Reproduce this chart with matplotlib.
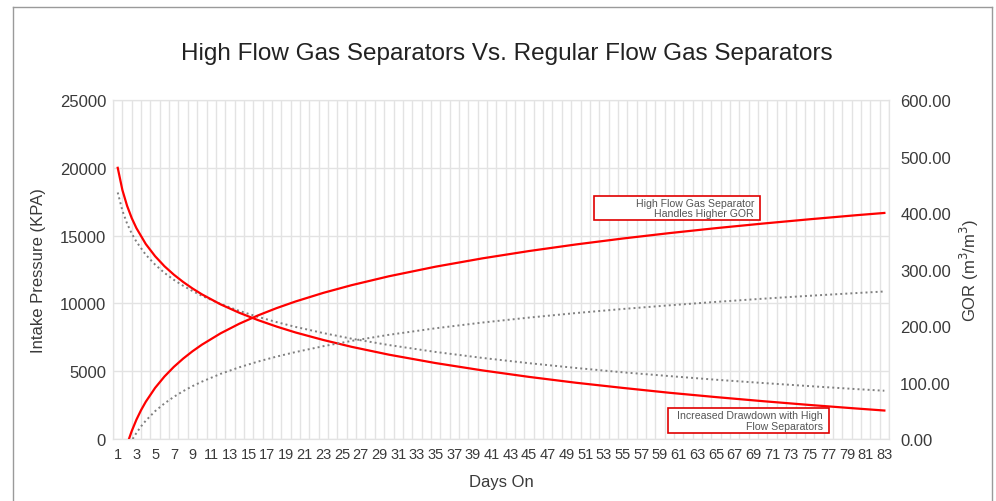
import matplotlib
matplotlib.use("Agg")
import matplotlib.pyplot as plt
from matplotlib.lines import Line2D
from matplotlib.patches import Rectangle
from matplotlib.ticker import FixedLocator, FuncFormatter

plt.rcParams['font.family'] = ['Liberation Sans', 'DejaVu Sans']

# Dados
dias_p = [1, 1.5, 2, 2.5, 3, 4, 5, 6, 7, 8, 9, 10, 12, 14, 16, 18, 20, 23, 26, 30,
          35, 40, 45, 50, 55, 60, 65, 70, 75, 80, 83]
pressao_alta = [20000, 18360, 17200, 16290, 15550, 14380, 13480, 12740, 12120, 11580,
                11100, 10670, 9930, 9310, 8770, 8290, 7860, 7300, 6800, 6220,
                5600, 5060, 4580, 4150, 3770, 3410, 3090, 2790, 2510, 2250, 2100]
pressao_regular = [18180, 16840, 15890, 15150, 14550, 13590, 12860, 12250, 11740, 11300,
                   10910, 10560, 9960, 9450, 9010, 8620, 8270, 7810, 7400, 6930,
                   6420, 5980, 5590, 5240, 4920, 4640, 4370, 4130, 3900, 3680, 3560]

dias_gor_alta = [2.2, 2.5, 3, 3.5, 4, 5, 6, 7, 8, 9, 10, 12, 14, 16, 18, 20, 23, 26, 30,
                 35, 40, 45, 50, 55, 60, 65, 70, 75, 80, 83]
gor_alta = [0, 14.1, 34.2, 51.2, 65.9, 90.5, 110.6, 127.6, 142.3, 155.3, 166.9, 187.0,
            204.0, 218.7, 231.7, 243.3, 258.7, 272.2, 288.0, 305.0, 319.7, 332.7,
            344.3, 354.8, 364.4, 373.2, 381.3, 388.9, 396.1, 400.1]

dias_gor_reg = [2.6, 3, 3.5, 4, 5, 6, 7, 8, 9, 10, 12, 14, 16, 18, 20, 23, 26, 30,
                35, 40, 45, 50, 55, 60, 65, 70, 75, 80, 83]
gor_regular = [0, 10.8, 22.4, 32.4, 49.3, 63.0, 74.6, 84.7, 93.6, 101.5, 115.3, 126.9,
               137.0, 145.9, 153.8, 164.3, 173.6, 184.4, 196.0, 206.1, 214.9, 222.9,
               230.1, 236.6, 242.7, 248.3, 253.5, 258.3, 261.1]

dias = list(range(1, 84))
rotulos_x = [d for d in dias if d % 2 == 1]
ticks_esq = [0, 5000, 10000, 15000, 20000, 25000]
ticks_dir = [0, 100, 200, 300, 400, 500, 600]

nota_gor = 'High Flow Gas Separator\nHandles Higher GOR'
nota_pressao = 'Increased Drawdown with High\nFlow Separators'

texto = '#3a3a3a'
grade = '#e3e3e3'

W, H = 996, 502
fig = plt.figure(figsize=(W / 100, H / 100), dpi=100)
ax = fig.add_axes([0.1135, 0.1235, 0.7791, 0.6753])
ax2 = ax.twinx()

# linhas
ax.plot(dias_p, pressao_regular, color='#7f7f7f', lw=1.4, ls=(0, (1, 1.6)))
ax.plot(dias_p, pressao_alta, color='#ff0000', lw=1.6)
ax2.plot(dias_gor_reg, gor_regular, color='#7f7f7f', lw=1.4, ls=(0, (1, 1.6)))
ax2.plot(dias_gor_alta, gor_alta, color='#ff0000', lw=1.6)

ax.set_xlim(0.5, 83.5)
ax.set_ylim(0, 25000)
ax2.set_ylim(0, 600)

ax.xaxis.set_major_locator(FixedLocator(rotulos_x))
ax.xaxis.set_minor_locator(FixedLocator([d + 0.5 for d in range(0, 84)]))
ax.set_yticks(ticks_esq)
ax2.set_yticks(ticks_dir)
ax2.yaxis.set_major_formatter(FuncFormatter(lambda v, p: '%.2f' % v))

ax.grid(which='minor', axis='x', color=grade, lw=1)
ax.grid(which='major', axis='y', color=grade, lw=1)
ax.set_axisbelow(True)

ax.tick_params(axis='x', which='both', length=0, labelsize=10.5, labelcolor=texto, pad=6)
ax.tick_params(axis='y', length=0, labelsize=12, labelcolor=texto, pad=5)
ax2.tick_params(axis='y', length=0, labelsize=12, labelcolor=texto, pad=8)

for a in (ax, ax2):
    for s in a.spines.values():
        s.set_color(grade)

ax.set_xlabel('Days On', fontsize=12, color=texto, labelpad=9)
ax.set_ylabel('Intake Pressure (KPA)', fontsize=12, color=texto)
ax2.set_ylabel('GOR (m$^3$/m$^3$)', fontsize=12, color=texto, labelpad=5)
ax.yaxis.set_label_coords(-0.087, 0.5)

fig.text(0.509, 0.893, 'High Flow Gas Separators Vs. Regular Flow Gas Separators',
         ha='center', va='center', fontsize=17.5, color='#222222')

# caixas de anotacao (em pixels da figura)
def caixa(x0, x1, y0, y1, nota):
    fig.add_artist(Rectangle((x0 / W, 1 - y1 / H), (x1 - x0) / W, (y1 - y0) / H,
                             transform=fig.transFigure, fc='white', ec='#e00000', lw=1.2,
                             zorder=5))
    fig.text((x1 - 6) / W, 1 - (y0 + y1) / 2 / H, nota, ha='right', va='center',
             fontsize=7.6, color='#555555', linespacing=1.1, zorder=6)

caixa(594, 760, 197, 221, nota_gor)
caixa(668, 829, 409, 434, nota_pressao)

# moldura
moldura = '#9a9a9a'
fig.add_artist(Line2D([0.013, 0.013], [0, 0.984], color=moldura, lw=1))
fig.add_artist(Line2D([0.013, 0.996], [0.984, 0.984], color=moldura, lw=1))
fig.add_artist(Line2D([0.996, 0.996], [0, 0.984], color=moldura, lw=1))

fig.savefig('out.png', dpi=100)
